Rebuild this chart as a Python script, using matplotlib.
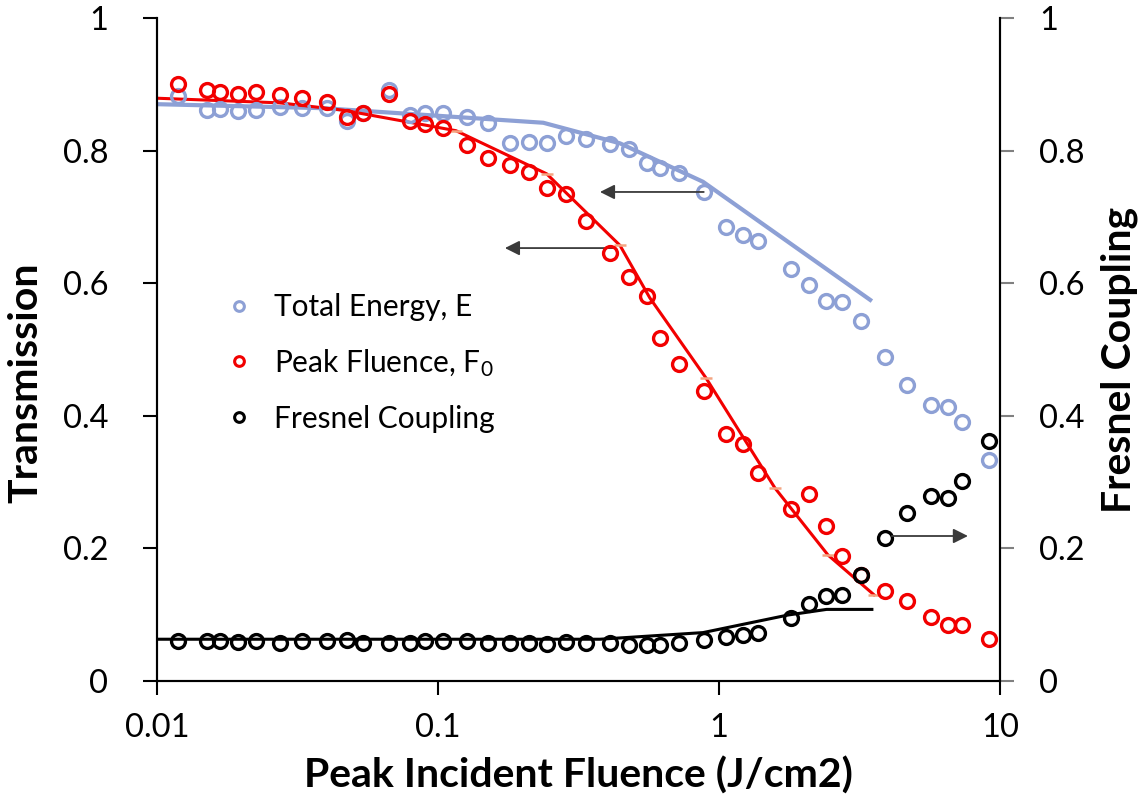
import numpy as np
import matplotlib
matplotlib.use("Agg")
import matplotlib.pyplot as plt
from matplotlib.lines import Line2D

plt.rcParams['font.family'] = ['Lato', 'DejaVu Sans']
plt.rcParams['mathtext.fontset'] = 'custom'
plt.rcParams['mathtext.rm'] = 'Lato'
plt.rcParams['mathtext.it'] = 'Lato'

# measured fluence values (J/cm2), shared by all three data sets
fluence = [0.01191, 0.01502, 0.01676, 0.01947, 0.02250, 0.02729, 0.03272, 0.04017,
           0.04733, 0.05387, 0.06709, 0.07969, 0.08990, 0.1045, 0.1268, 0.1510,
           0.1804, 0.2113, 0.2449, 0.2854, 0.3354, 0.4094, 0.4764, 0.5530,
           0.6182, 0.7176, 0.8842, 1.063, 1.220, 1.371, 1.800, 2.096,
           2.413, 2.733, 3.201, 3.897, 4.648, 5.667, 6.505, 7.325, 9.161]

trans_energy = [0.882, 0.861, 0.862, 0.860, 0.861, 0.866, 0.864, 0.865,
                0.845, 0.857, 0.892, 0.854, 0.856, 0.856, 0.851, 0.842,
                0.812, 0.813, 0.812, 0.822, 0.817, 0.810, 0.803, 0.782,
                0.774, 0.766, 0.737, 0.685, 0.673, 0.664, 0.622, 0.598,
                0.573, 0.572, 0.543, 0.489, 0.446, 0.417, 0.413, 0.390, 0.334]

trans_peak = [0.900, 0.892, 0.889, 0.885, 0.889, 0.884, 0.879, 0.874,
              0.851, 0.856, 0.885, 0.845, 0.840, 0.834, 0.808, 0.789,
              0.778, 0.767, 0.744, 0.735, 0.694, 0.645, 0.610, 0.580,
              0.518, 0.478, 0.438, 0.372, 0.357, 0.313, 0.260, 0.282,
              0.234, 0.189, 0.160, 0.136, 0.121, 0.097, 0.084, 0.084, 0.063]

fresnel = [0.060, 0.060, 0.061, 0.059, 0.061, 0.058, 0.061, 0.060,
           0.062, 0.058, 0.058, 0.058, 0.060, 0.060, 0.060, 0.057,
           0.058, 0.058, 0.056, 0.059, 0.057, 0.057, 0.055, 0.055,
           0.055, 0.058, 0.062, 0.066, 0.069, 0.073, 0.095, 0.116,
           0.128, 0.130, 0.160, 0.215, 0.253, 0.279, 0.276, 0.301, 0.362]

# model curves
model_e_x = [0.01, 0.039, 0.237, 0.444, 0.877, 3.50]
model_e_y = [0.870, 0.864, 0.842, 0.811, 0.753, 0.573]

model_f_x = [0.01, 0.0274, 0.0459, 0.1159, 0.2436, 0.4443, 0.567, 0.899, 1.582, 2.443, 3.561]
model_f_y = [0.879, 0.872, 0.861, 0.830, 0.765, 0.657, 0.578, 0.457, 0.291, 0.190, 0.130]
model_f_nodes = [3, 4, 5, 7, 8, 9, 10]

model_c_x = [0.01, 0.377, 0.877, 1.76, 2.415, 3.50]
model_c_y = [0.063, 0.063, 0.073, 0.0995, 0.108, 0.108]

blue = '#8DA0D5'
red = '#F20000'

fig = plt.figure(figsize=(11.43, 7.98), dpi=100)
ax = fig.add_axes([157 / 1143, 117 / 798, 843 / 1143, 663 / 798])
ax2 = ax.twinx()

ax.plot(model_e_x, model_e_y, color=blue, lw=3.0, solid_capstyle='butt', zorder=2)
ax.plot(model_f_x, model_f_y, color=red, lw=2.2, zorder=2)
ax.plot([model_f_x[i] for i in model_f_nodes], [model_f_y[i] for i in model_f_nodes],
        ls='none', marker='_', ms=8, mew=1.8, color='#F4A582', zorder=2)
ax2.plot(model_c_x, model_c_y, color='black', lw=2.2, zorder=2)

ax.plot(fluence, trans_energy, ls='none', marker='o', ms=10, mew=2.4,
        mfc='none', mec=blue, zorder=3)
ax.plot(fluence, trans_peak, ls='none', marker='o', ms=10, mew=2.4,
        mfc='none', mec=red, zorder=4)
ax2.plot(fluence, fresnel, ls='none', marker='o', ms=10, mew=2.4,
         mfc='none', mec='black', zorder=3)

# arrows pointing to the axis each set belongs to
arrow = dict(arrowstyle='-|>', color='#3a3a3a', lw=1.3, mutation_scale=22, shrinkA=0, shrinkB=0)
ax.annotate('', xy=(0.377, 0.7376), xytext=(0.8826, 0.7376), arrowprops=arrow)
ax.annotate('', xy=(0.173, 0.653), xytext=(0.420, 0.653), arrowprops=arrow)
ax2.annotate('', xy=(7.69, 0.2187), xytext=(4.12, 0.2187), arrowprops=arrow)

for a in (ax, ax2):
    a.set_xscale('log')
    a.set_xlim(0.01, 10)
    a.set_ylim(0, 1)
    a.spines['top'].set_visible(False)
    for s in a.spines.values():
        s.set_linewidth(1.5)

ax.set_xticks([0.01, 0.1, 1, 10])
ax.set_xticklabels(['0.01', '0.1', '1', '10'])
ax.xaxis.set_minor_locator(matplotlib.ticker.NullLocator())
ticks = [0, 0.2, 0.4, 0.6, 0.8, 1]
labels = ['0', '0.2', '0.4', '0.6', '0.8', '1']
ax.set_yticks(ticks)
ax.set_yticklabels(labels)
ax2.set_yticks(ticks)
ax2.set_yticklabels(labels)

ax.tick_params(axis='both', direction='out', length=10, width=1.5, labelsize=23.5)
ax.tick_params(axis='y', pad=25)
ax.tick_params(axis='x', pad=13)
ax2.tick_params(axis='y', direction='out', length=10, width=1.5, color='#808080',
                labelsize=23.5, pad=18)

ax.set_xlabel('Peak Incident Fluence (J/cm2)', fontsize=29.5, fontweight='bold', labelpad=10)
ax.set_ylabel('Transmission', fontsize=29.5, fontweight='bold')
ax2.set_ylabel('Fresnel Coupling', fontsize=29.5, fontweight='bold')
ax.yaxis.set_label_coords(-0.134, 0.45)
ax2.yaxis.set_label_coords(1.119, 0.485)

handles = [
    Line2D([], [], ls='none', marker='o', ms=7, mew=2.2, mfc='none', mec=blue),
    Line2D([], [], ls='none', marker='o', ms=7, mew=2.2, mfc='none', mec=red),
    Line2D([], [], ls='none', marker='o', ms=7, mew=2.2, mfc='none', mec='black'),
]
ax2.legend(handles, ['Total Energy, E', r'Peak Fluence, F$_0$', 'Fresnel Coupling'],
           loc='center left', bbox_to_anchor=(0.08, 0.48), frameon=False,
           fontsize=21.5, handlelength=1.0, handletextpad=0.65, labelspacing=0.87,
           borderpad=0, borderaxespad=0)

fig.savefig('out.png', dpi=100)
